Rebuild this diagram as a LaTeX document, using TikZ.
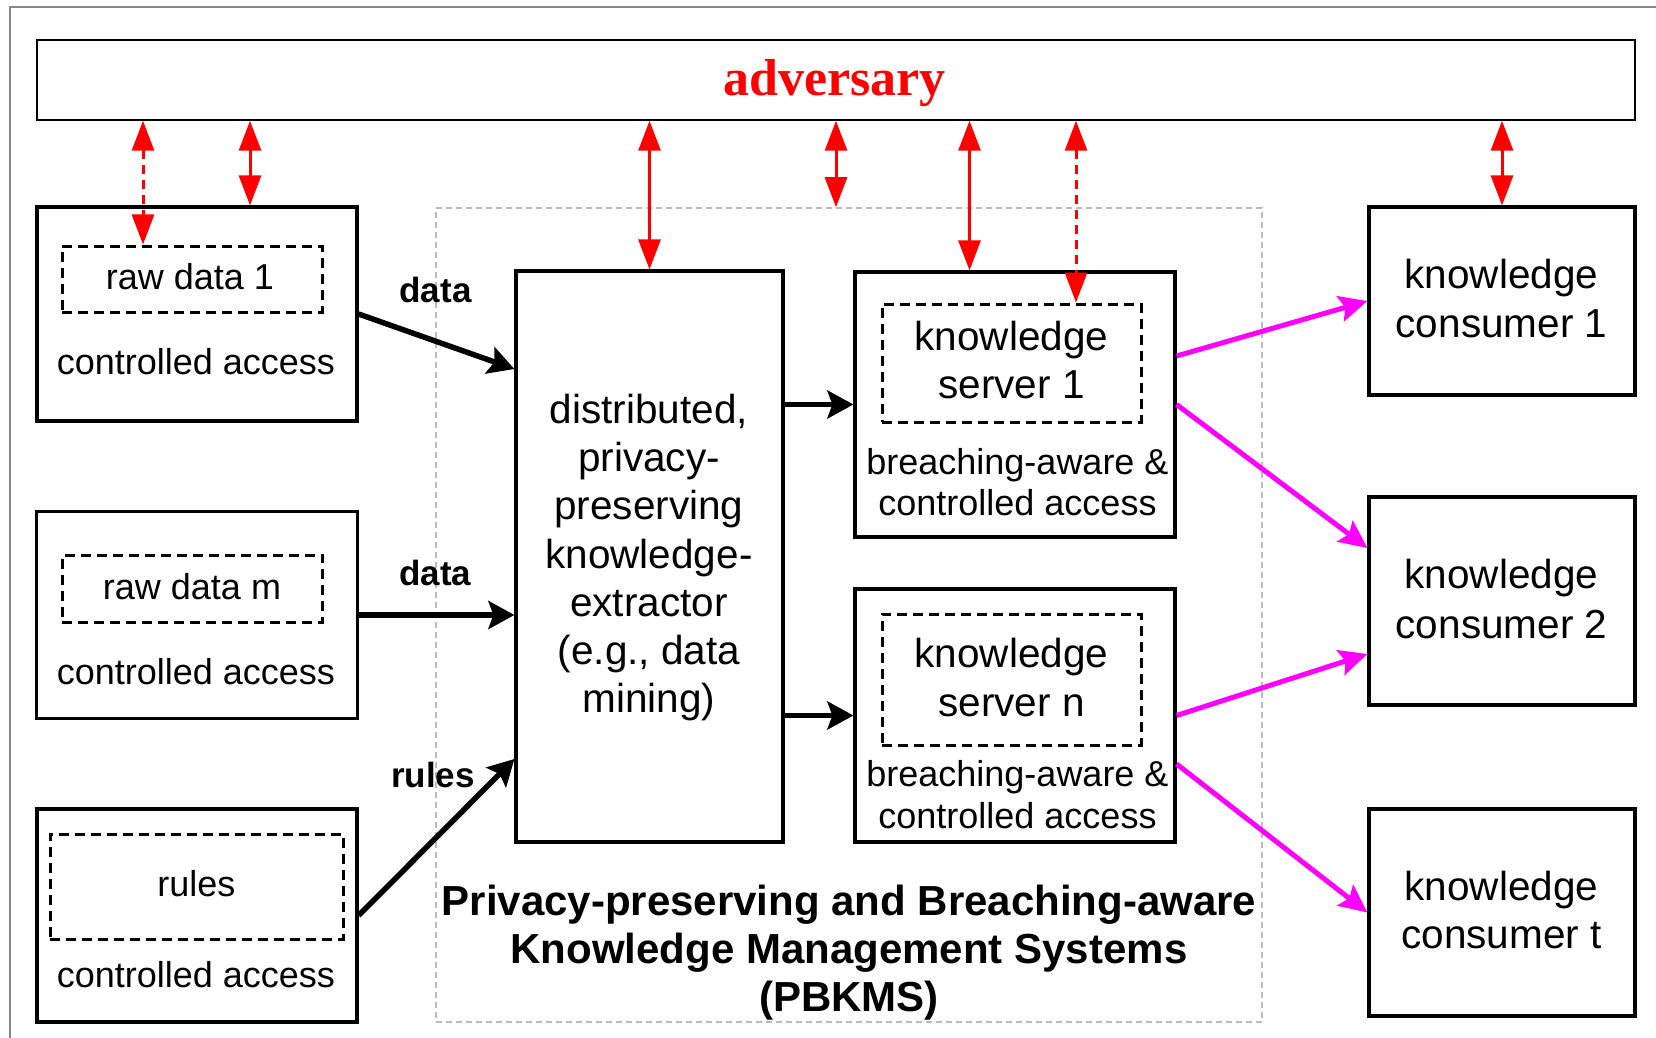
\documentclass[tikz,border=0pt]{standalone}
\usepackage{fontspec}
\setmainfont{Liberation Sans}
\newfontfamily\advfont{Liberation Serif}
\usetikzlibrary{arrows.meta}
\definecolor{pbkgray}{HTML}{BBBBBB}
\definecolor{framegray}{HTML}{888888}
\definecolor{magline}{RGB}{255,0,255}
\definecolor{redline}{RGB}{255,0,0}
\begin{document}
\begin{tikzpicture}[x=0.5pt,y=-0.5pt,
  bx/.style={draw,line width=1.6pt,inner sep=0pt,rectangle},
  inbx/.style={draw,line width=1.5pt,dash pattern=on 5pt off 3pt,inner sep=0pt,rectangle},
  pbk/.style={draw=pbkgray,line width=0.75pt,dash pattern=on 3pt off 2pt,inner sep=0pt,rectangle},
  tA/.style={inner sep=0pt,anchor=base,font=\fontsize{18pt}{21pt}\selectfont},
  tB/.style={inner sep=0pt,anchor=base,font=\fontsize{20.25pt}{24pt}\selectfont},
  tlab/.style={inner sep=0pt,anchor=base,font=\bfseries\fontsize{17.5pt}{21pt}\selectfont},
  tcap/.style={inner sep=0pt,anchor=base,font=\bfseries\fontsize{21pt}{24pt}\selectfont},
  redarr/.style={draw=redline,line width=1.5pt,>={Triangle[length=15pt,width=11pt]},<->},
  reddash/.style={redarr,dash pattern=on 4.5pt off 3pt},
  blkarr/.style={draw=black,line width=2.75pt,-{Stealth[length=13pt,width=14pt,inset=2.5pt]}},
  magarr/.style={draw=magline,line width=2.5pt,-{Stealth[length=14pt,width=13pt,inset=2.5pt]}}
]
\useasboundingbox (0,0) rectangle (1656,1038);
% outer frame (only left and top edges visible)
\draw[framegray,line width=1pt] (10,1038) -- (10,7) -- (1656,7);

% PBKMS grey dashed region
\node[pbk,minimum width=413pt,minimum height=407pt] (pbkms) at (849,615) {};

% adversary
\node[draw,line width=0.75pt,inner sep=0pt,minimum width=799pt,minimum height=40pt] (adv) at (836,80) {};
\node[inner sep=0pt,anchor=base,text=redline,font=\advfont\bfseries\fontsize{26pt}{30pt}\selectfont] (advt) at (834.7,96) {adversary};

% raw data 1
\node[bx,minimum width=160pt,minimum height=107pt] (raw1) at (197,314) {};
\node[inbx,minimum width=130pt,minimum height=33pt] (raw1in) at (192,279) {};
\node[tA] (raw1a) at (190,289.5) {raw data 1};
\node[tA] (raw1b) at (196,374) {controlled access};

% raw data m
\node[bx,minimum width=160.5pt,minimum height=103.3pt] (rawm) at (196.7,615) {};
\node[inbx,minimum width=130.2pt,minimum height=33.8pt] (rawmin) at (192.5,588.8) {};
\node[tA] (rawma) at (192,599) {raw data m};
\node[tA] (rawmb) at (196,684) {controlled access};

% rules
\node[bx,minimum width=160pt,minimum height=106.5pt] (rulesb) at (197,915.5) {};
\node[inbx,minimum width=146.5pt,minimum height=52.5pt] (rulesin) at (196.5,886.5) {};
\node[tA] (rulesa) at (196.3,896) {rules};
\node[tA] (rulesc) at (196,987) {controlled access};

% extractor
\node[bx,minimum width=133.5pt,minimum height=285.5pt] (ext) at (649.5,556.5) {};
\node[tB] (ext1) at (649,423.3) {distributed,};
\node[tB] (ext2) at (649,471.6) {privacy-};
\node[tB] (ext3) at (649,519.8) {preserving};
\node[tB] (ext4) at (649,568) {knowledge-};
\node[tB] (ext5) at (649,616.3) {extractor};
\node[tB] (ext6) at (649,664.5) {(e.g., data};
\node[tB] (ext7) at (649,712.8) {mining)};

% knowledge server 1
\node[bx,minimum width=160pt,minimum height=132.5pt] (ks1) at (1015,404.5) {};
\node[inbx,minimum width=129.5pt,minimum height=59pt] (ks1in) at (1011.5,363) {};
\node[tB] (ks1a) at (1011.5,350) {knowledge};
\node[tB] (ks1b) at (1011.5,398.3) {server 1};
\node[tA] (ks1c) at (1017.5,474) {breaching-aware \&};
\node[tA] (ks1d) at (1017.5,515) {controlled access};

% knowledge server n
\node[bx,minimum width=160pt,minimum height=126.5pt] (ksn) at (1015,715.5) {};
\node[inbx,minimum width=129.5pt,minimum height=65.5pt] (ksnin) at (1011.5,679.5) {};
\node[tB] (ksna) at (1011.5,667.3) {knowledge};
\node[tB] (ksnb) at (1011.5,716) {server n};
\node[tA] (ksnc) at (1017.5,786) {breaching-aware \&};
\node[tA] (ksnd) at (1017.5,828) {controlled access};

% consumers
\node[bx,minimum width=133pt,minimum height=94pt] (c1) at (1502,301) {};
\node[tB] (c1a) at (1501.5,288.3) {knowledge};
\node[tB] (c1b) at (1501.5,337.3) {consumer 1};
\node[bx,minimum width=133pt,minimum height=104pt] (c2) at (1502,601) {};
\node[tB] (c2a) at (1501.5,588.3) {knowledge};
\node[tB] (c2b) at (1501.5,638.3) {consumer 2};
\node[bx,minimum width=133pt,minimum height=103.5pt] (ct) at (1502,912.5) {};
\node[tB] (cta) at (1501.5,900.5) {knowledge};
\node[tB] (ctb) at (1501.5,948.5) {consumer t};

% labels
\node[tlab] (lab1) at (435.5,302) {data};
\node[tlab] (lab2) at (435.3,585.7) {data};
\node[tlab] (lab3) at (433,787.3) {rules};

% caption
\node[tcap] (cap1) at (849,915) {Privacy-preserving and Breaching-aware};
\node[tcap] (cap2) at (849,963) {Knowledge Management Systems};
\node[tcap] (cap3) at (849,1011) {(PBKMS)};

% black arrows
\draw[blkarr] (raw1.east) -- ([yshift=93.75pt]ext.west);
\draw[blkarr] (rawm.east) -- (rawm.east -| ext.west);
\draw[blkarr] (rulesb.east) -- ([yshift=-101.25pt]ext.west);
\draw[blkarr] (ext.east |- ks1.west) -- (ks1.west);
\draw[blkarr] (ext.east |- ksn.west) -- (ksn.west);

% magenta arrows
\draw[magarr] ([yshift=24.25pt]ks1.east) -- (c1.west);
\draw[magarr] (ks1.east) -- ([yshift=26.5pt]c2.west);
\draw[magarr] (ksn.east) -- ([yshift=-26.5pt]c2.west);
\draw[magarr] ([yshift=-24.25pt]ksn.east) -- (ct.west);

% red adversary arrows
\coordinate (xA) at (143,0);
\coordinate (xB) at (250,0);
\coordinate (xE) at (969.5,0);
\coordinate (xF) at (1076,0);
\draw[reddash] (adv.south -| xA) -- (raw1in.north -| xA);
\draw[redarr] (adv.south -| xB) -- (raw1.north -| xB);
\draw[redarr] (adv.south -| ext.north) -- (ext.north);
\draw[redarr] (adv.south) -- (adv.south |- pbkms.north);
\draw[redarr] (adv.south -| xE) -- (ks1.north -| xE);
\draw[reddash] (adv.south -| xF) -- (ks1in.north -| xF);
\draw[redarr] (adv.south -| c1.north) -- (c1.north);
\end{tikzpicture}
\end{document}
